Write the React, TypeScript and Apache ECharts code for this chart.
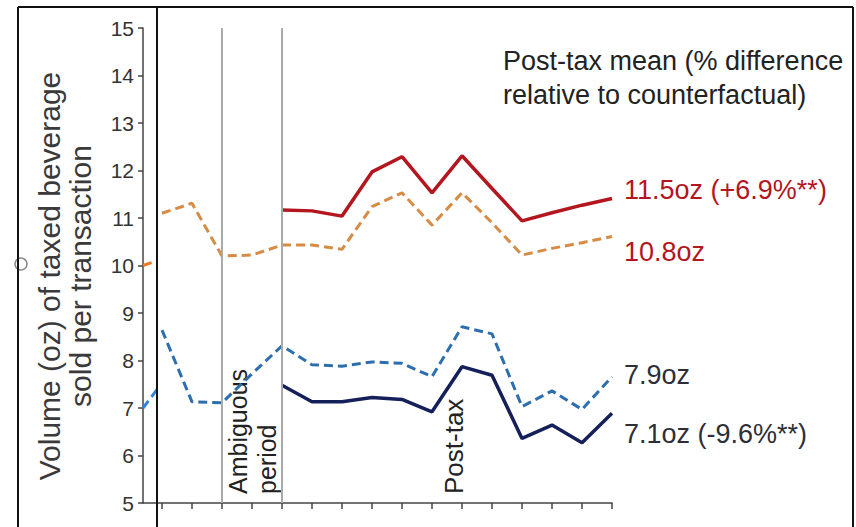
import React, { useEffect, useRef } from "react";
import * as echarts from "echarts";

// Period index along the x axis (one tick per period)
const periods = [0, 1, 2, 3, 4, 5, 6, 7, 8, 9, 10, 11, 12, 13, 14, 15];
const yTicks = [5, 6, 7, 8, 9, 10, 11, 12, 13, 14, 15];

// Counterfactual (dashed) and observed (solid) volumes, oz per transaction
const highCounterfactual = [11.1, 11.31, 10.2, 10.22, 10.43, 10.43, 10.34, 11.24, 11.53, 10.85, 11.53, 10.9, 10.22, 10.36, 10.48, 10.61];
const highObserved = [11.17, 11.15, 11.04, 11.97, 12.29, 11.53, 12.31, 11.62, 10.94, 11.11, 11.27, 11.41];
const lowCounterfactual = [8.64, 7.13, 7.11, 7.72, 8.31, 7.91, 7.88, 7.97, 7.94, 7.66, 8.71, 8.56, 7.03, 7.36, 6.97, 7.66];
const lowObserved = [7.48, 7.13, 7.13, 7.22, 7.18, 6.92, 7.87, 7.69, 6.36, 6.64, 6.27, 6.89];
const observedStart = 4;

// Short leading pieces of the dashed series, left of the panel edge
const highLead = [[-0.633, 10.0], [-0.15, 10.1]];
const lowLead = [[-0.633, 7.0], [-0.15, 7.4]];

const periodMarks = [2, 4];

const endLabels = {
  highObserved: "11.5oz (+6.9%**)",
  highCounterfactual: "10.8oz",
  lowCounterfactual: "7.9oz",
  lowObserved: "7.1oz (-9.6%**)",
};

const FONT = "'Liberation Sans', Arial, sans-serif";
const RED = "#b3161f";
const ORANGE = "#d68c45";
const BLUE = "#2d6fae";
const NAVY = "#15205a";
const FRAME = "#111111";

export default function App() {
  const ref = useRef<HTMLDivElement>(null);

  useEffect(() => {
    if (!ref.current) return;
    const chart = echarts.init(ref.current, null, { renderer: "svg" });

    const pairs = (vals: number[], start = 0) => vals.map((v, i) => [periods[i + start], v]);

    const dashed = (color: string, width = 3) => ({
      color,
      width,
      type: [9, 5] as number[],
    });

    const endLabel = (text: string, color: string, dy: number) => ({
      show: true,
      formatter: () => text,
      color,
      fontSize: 27,
      fontFamily: FONT,
      distance: 12,
      offset: [0, dy],
    });

    const frameLine = (x1: number, y1: number, x2: number, y2: number) => ({
      type: "line",
      shape: { x1, y1, x2, y2 },
      style: { stroke: FRAME, lineWidth: 2 },
      z: 100,
    });

    chart.setOption({
      animation: false,
      backgroundColor: "#ffffff",
      grid: { left: 143, right: 244, top: 28, bottom: 24 },
      xAxis: {
        type: "value",
        min: -0.633,
        max: 15,
        axisLine: { show: true, onZero: false, lineStyle: { color: "#444", width: 1.5 } },
        axisTick: {
          show: true,
          customValues: periods,
          length: 6,
          lineStyle: { color: "#444", width: 1.5 },
        },
        axisLabel: { show: false },
        splitLine: { show: false },
      },
      yAxis: {
        type: "value",
        min: yTicks[0],
        max: yTicks[yTicks.length - 1],
        interval: 1,
        axisLine: { show: true, onZero: false, lineStyle: { color: "#444", width: 1.5 } },
        axisTick: { show: true, length: 5, lineStyle: { color: "#444", width: 1.5 } },
        axisLabel: { color: "#333", fontSize: 21, fontFamily: FONT, margin: 9 },
        splitLine: { show: false },
      },
      series: [
        {
          type: "line",
          data: highLead,
          symbol: "none",
          lineStyle: dashed("#ea7a22"),
          z: 2,
        },
        {
          type: "line",
          data: lowLead,
          symbol: "none",
          lineStyle: dashed("#2f86d6"),
          z: 2,
        },
        {
          type: "line",
          data: pairs(highCounterfactual),
          symbol: "none",
          lineStyle: dashed(ORANGE),
          endLabel: endLabel(endLabels.highCounterfactual, RED, 15),
          markLine: {
            silent: true,
            symbol: "none",
            label: { show: false },
            lineStyle: { color: "#aaaaaa", width: 2, type: "solid" },
            data: periodMarks.map((x) => ({ xAxis: x })),
          },
          z: 3,
        },
        {
          type: "line",
          data: pairs(highObserved, observedStart),
          symbol: "none",
          lineStyle: { color: RED, width: 3.5 },
          endLabel: endLabel(endLabels.highObserved, RED, -9),
          z: 4,
        },
        {
          type: "line",
          data: pairs(lowCounterfactual),
          symbol: "none",
          lineStyle: dashed(BLUE),
          endLabel: endLabel(endLabels.lowCounterfactual, "#2e2e38", -2),
          z: 3,
        },
        {
          type: "line",
          data: pairs(lowObserved, observedStart),
          symbol: "none",
          lineStyle: { color: NAVY, width: 3.5 },
          endLabel: endLabel(endLabels.lowObserved, "#2e2e38", 21),
          z: 4,
        },
      ],
      graphic: [
        // Axis title, two lines reading bottom to top
        {
          type: "text",
          x: 65,
          y: 276,
          rotation: Math.PI / 2,
          style: {
            text: "Volume (oz) of taxed beverage\nsold per transaction",
            font: `30px ${FONT}`,
            fill: "#3a3a3a",
            align: "center",
            verticalAlign: "middle",
            lineHeight: 31,
          },
        },
        // Period annotations
        {
          type: "text",
          x: 238,
          y: 494,
          rotation: Math.PI / 2,
          style: {
            text: "Ambiguous",
            font: `25px ${FONT}`,
            fill: "#222",
            align: "left",
            verticalAlign: "middle",
          },
        },
        {
          type: "text",
          x: 267,
          y: 494,
          rotation: Math.PI / 2,
          style: {
            text: "period",
            font: `25px ${FONT}`,
            fill: "#222",
            align: "left",
            verticalAlign: "middle",
          },
        },
        {
          type: "text",
          x: 454,
          y: 494,
          rotation: Math.PI / 2,
          style: {
            text: "Post-tax",
            font: `26px ${FONT}`,
            fill: "#222",
            align: "left",
            verticalAlign: "middle",
          },
        },
        // Key heading
        {
          type: "text",
          x: 503,
          y: 44,
          style: {
            text: "Post-tax mean (% difference\nrelative to counterfactual)",
            font: `27px ${FONT}`,
            fill: "#222",
            align: "left",
            verticalAlign: "top",
            lineHeight: 34,
          },
        },
        // Frame
        frameLine(18, 7, 853, 7),
        frameLine(18, 7, 18, 527),
        frameLine(853, 7, 853, 527),
        frameLine(157, 7, 157, 527),
        {
          type: "circle",
          shape: { cx: 21, cy: 264, r: 6 },
          style: { fill: "#fff", stroke: "#8a8a8a", lineWidth: 1.5 },
          z: 99,
        },
      ],
    });

    return () => chart.dispose();
  }, []);

  return (
    <div
      ref={ref}
      style={{ position: "absolute", left: 0, top: 0, width: 856, height: 527 }}
    />
  );
}
